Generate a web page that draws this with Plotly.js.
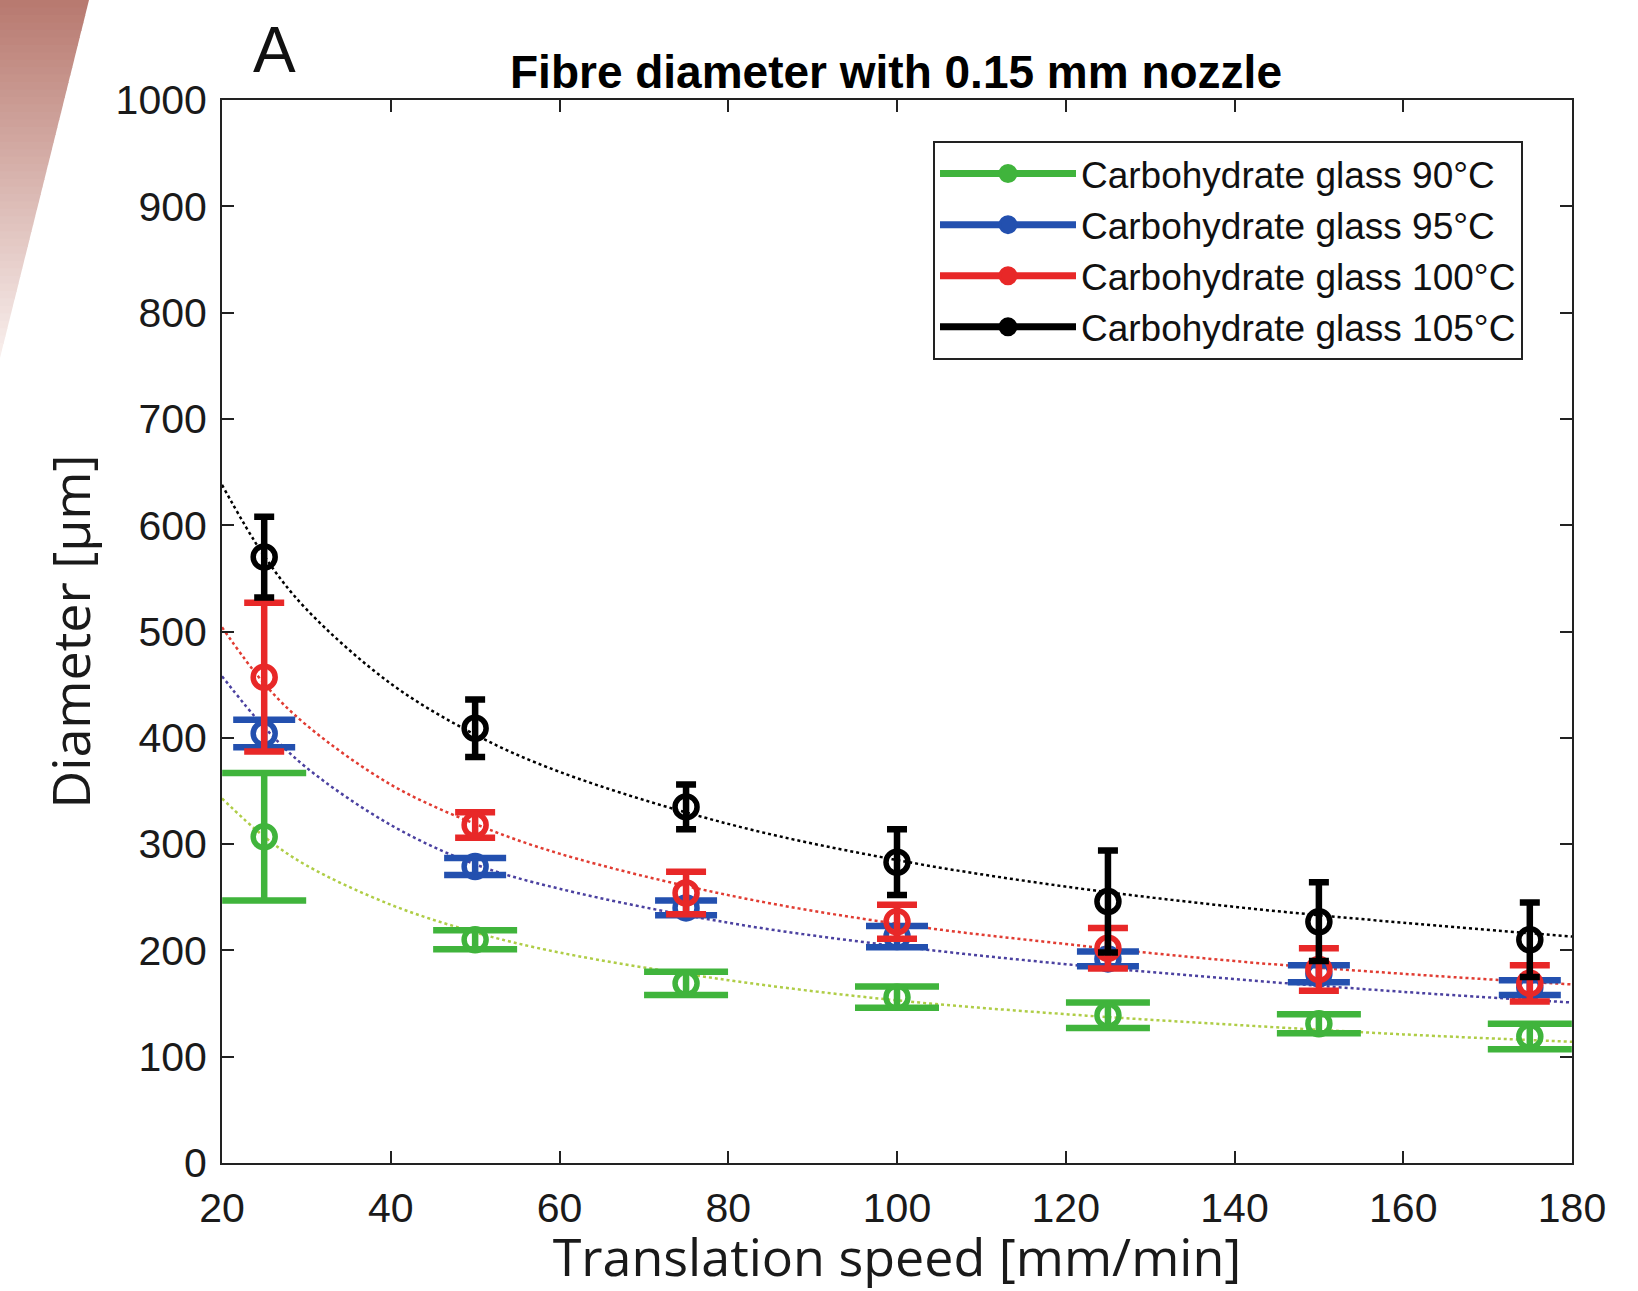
<!DOCTYPE html>
<html>
<head>
<meta charset="utf-8">
<script src="https://cdn.plot.ly/plotly-3.0.1.min.js"></script>
<style>
  html, body { margin: 0; padding: 0; background: #ffffff; }
  #chart { width: 1638px; height: 1291px; }
</style>
</head>
<body>
<div id="chart"></div>
<script>
// ---- data ----
const speeds = [25, 50, 75, 100, 125, 150, 175];

const seriesNames = [
  "Carbohydrate glass 90°C",
  "Carbohydrate glass 95°C",
  "Carbohydrate glass 100°C",
  "Carbohydrate glass 105°C"
];

const mean90  = [307, 210, 169, 156, 139, 131, 119];
const err90   = [60, 9, 11, 10, 12, 9, 12];
const mean95  = [404, 279, 240, 213, 192, 178, 165];
const err95   = [13, 8, 7, 10, 7, 8, 7];
const mean100 = [457, 318, 254, 227, 202, 182, 169];
const err100  = [70, 12, 20, 16, 19, 20, 17];
const mean105 = [570, 409, 335, 283, 246, 227, 210];
const err105  = [38, 27, 21, 31, 48, 37, 35];

// fitted trend curves
const fitX     = [20, 25, 30, 40, 50, 60, 80, 100, 120, 140, 160, 180];
const fit90    = [343, 307, 280, 243, 217, 198, 172, 153, 140, 130, 121, 114];
const fit95    = [458, 410, 372, 318, 281, 258, 226, 204, 187, 173, 161, 151];
const fit100   = [504, 451, 412, 356, 319, 291, 252, 225, 206, 190, 178, 168];
const fit105   = [638, 571, 521, 451, 403, 368, 319, 285, 260, 241, 226, 213];

const xTicks = [20, 40, 60, 80, 100, 120, 140, 160, 180];
const yTicks = [0, 100, 200, 300, 400, 500, 600, 700, 800, 900, 1000];

// ---- styles ----
const dataColors = ["rgb(64,180,60)", "rgb(35,80,175)", "rgb(232,40,40)", "rgb(0,0,0)"];
const fitColors  = ["rgb(175,205,70)", "rgb(75,65,160)", "rgb(225,60,50)", "rgb(0,0,0)"];
const capWidths  = [42, 31, 20, 10];
const means = [mean90, mean95, mean100, mean105];
const errs  = [err90, err95, err100, err105];
const fits  = [fit90, fit95, fit100, fit105];

const traces = [];
// fit curves first (underneath)
for (let i = 0; i < 4; i++) {
  traces.push({
    x: fitX, y: fits[i], type: "scatter", mode: "lines",
    line: { color: fitColors[i], width: 2.5, dash: "dot", shape: "spline", smoothing: 1 },
    showlegend: false, hoverinfo: "skip"
  });
}
// data with error bars
for (let i = 0; i < 4; i++) {
  traces.push({
    x: speeds, y: means[i], type: "scatter", mode: "markers",
    marker: { symbol: "circle-open", size: 22, color: dataColors[i], line: { width: 5.5, color: dataColors[i] } },
    error_y: { type: "data", array: errs[i], visible: true, color: dataColors[i], thickness: 6.5, width: capWidths[i] },
    showlegend: false, cliponaxis: true
  });
}
// legend entries (no data points)
for (let i = 0; i < 4; i++) {
  traces.push({
    x: [null], y: [null], type: "scatter", mode: "lines+markers",
    name: seriesNames[i],
    line: { color: dataColors[i], width: 7 },
    marker: { symbol: "circle", size: 16, color: dataColors[i], line: { width: 3, color: dataColors[i] } },
    showlegend: true
  });
}

// plot area geometry (px)
const L = 222, R = 1572, T = 100, B = 1163, W = 1638, H = 1291;
const pw = R - L, ph = B - T;
const px2x = p => (p - L) / pw;
const py2y = p => (B - p) / ph;

// decorative gradient band at top-left corner
const shapes = [];
const nBands = 48, bandH = 358, bandTop = 89;
const c0 = [184, 122, 112], c1 = [248, 238, 236];
for (let k = 0; k < nBands; k++) {
  const y0 = k * bandH / nBands, y1 = Math.min((k + 1) * bandH / nBands + 0.8, bandH);
  const xr0 = bandTop * (1 - y0 / bandH), xr1 = bandTop * (1 - y1 / bandH);
  const t = k / (nBands - 1);
  const col = c0.map((c, j) => Math.round(c + (c1[j] - c) * t));
  shapes.push({
    type: "path", xref: "paper", yref: "paper", layer: "below",
    path: `M ${px2x(0)} ${py2y(y0)} L ${px2x(xr0)} ${py2y(y0)} L ${px2x(xr1)} ${py2y(y1)} L ${px2x(0)} ${py2y(y1)} Z`,
    fillcolor: `rgb(${col[0]},${col[1]},${col[2]})`, line: { width: 0 }
  });
}

const tickFont = { family: "Liberation Sans, Arial, sans-serif", size: 41, color: "#1a1a1a" };
const titleFont = { family: "Open Sans, sans-serif", size: 52, color: "#1a1a1a" };

const layout = {
  width: W, height: H,
  margin: { l: L, r: W - R, t: T, b: H - B, pad: 0 },
  paper_bgcolor: "#ffffff", plot_bgcolor: "#ffffff",
  showlegend: true,
  title: {
    text: "<b>Fibre diameter with 0.15 mm nozzle</b>",
    font: { family: "Liberation Sans, Arial, sans-serif", size: 46, color: "#000000" },
    x: px2x(896), xref: "paper", xanchor: "center",
    y: 1 - 72 / H, yref: "container", yanchor: "middle"
  },
  xaxis: {
    range: [20, 180], tickvals: xTicks, ticktext: xTicks.map(String),
    ticks: "inside", ticklen: 12, tickwidth: 2, tickcolor: "#222",
    showline: true, linecolor: "#222", linewidth: 2, mirror: "ticks",
    showgrid: false, zeroline: false, tickfont: tickFont, ticklabelstandoff: 8,
    title: { text: "Translation speed [mm/min]", font: titleFont, standoff: 30 },
    automargin: false
  },
  yaxis: {
    range: [0, 1000], tickvals: yTicks, ticktext: yTicks.map(String),
    ticks: "inside", ticklen: 12, tickwidth: 2, tickcolor: "#222",
    showline: true, linecolor: "#222", linewidth: 2, mirror: "ticks",
    showgrid: false, zeroline: false, tickfont: tickFont, ticklabelstandoff: 5,
    title: { text: "Diameter [µm]", font: titleFont, standoff: 8 },
    automargin: false
  },
  legend: {
    x: px2x(933), y: py2y(141), xanchor: "left", yanchor: "top",
    bgcolor: "#ffffff", bordercolor: "#222", borderwidth: 2,
    font: { family: "Liberation Sans, Arial, sans-serif", size: 37, color: "#111" },
    itemwidth: 136, tracegroupgap: 0
  },
  shapes: shapes,
  annotations: [{
    text: "A", xref: "paper", yref: "paper", x: px2x(274), y: py2y(50),
    xanchor: "center", yanchor: "middle", showarrow: false,
    font: { family: "Liberation Sans, Arial, sans-serif", size: 64, color: "#111" }
  }]
};

Plotly.newPlot("chart", traces, layout, { displayModeBar: false, staticPlot: true });
</script>
</body>
</html>
